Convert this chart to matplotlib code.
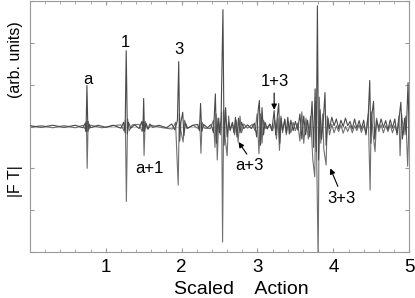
#!/usr/bin/env python3

from matplotlib import pyplot as plt
from matplotlib.ticker import MultipleLocator, NullFormatter

# upper trace: (scaled action, |FT|) vertices
act_up = [0.00, 0.15, 0.30, 0.45, 0.60, 0.70, 0.73, 0.74, 0.752, 0.765, 0.78, 0.80,
          0.90, 1.00, 1.10, 1.20, 1.235, 1.255, 1.27, 1.285, 1.30, 1.33, 1.38, 1.44,
          1.475, 1.49, 1.50, 1.51, 1.53, 1.56, 1.58, 1.62, 1.70, 1.80, 1.87, 1.91,
          1.945, 1.962, 1.975, 1.99, 2.015, 2.03, 2.05, 2.08, 2.15, 2.21, 2.235, 2.25,
          2.265, 2.29, 2.34, 2.39, 2.42, 2.445, 2.46, 2.48, 2.50, 2.52, 2.545, 2.56,
          2.58, 2.60, 2.62, 2.64, 2.67, 2.69, 2.71, 2.73, 2.75, 2.77, 2.79, 2.82,
          2.87, 2.92, 2.96, 2.99, 3.01, 3.025, 3.04, 3.06, 3.08, 3.10, 3.13, 3.16,
          3.19, 3.22, 3.24, 3.265, 3.28, 3.295, 3.31, 3.33, 3.36, 3.38, 3.40, 3.42,
          3.44, 3.47, 3.50, 3.53, 3.56, 3.585, 3.61, 3.635, 3.66, 3.69, 3.72, 3.74,
          3.76, 3.775, 3.79, 3.805, 3.825, 3.845, 3.87, 3.89, 3.905, 3.93, 3.95, 3.98,
          4.01, 4.04, 4.07, 4.10, 4.13, 4.16, 4.19, 4.22, 4.25, 4.28, 4.31, 4.34,
          4.37, 4.40, 4.43, 4.46, 4.48, 4.495, 4.51, 4.53, 4.545, 4.57, 4.60, 4.63,
          4.66, 4.69, 4.72, 4.75, 4.78, 4.81, 4.84, 4.87, 4.89, 4.91, 4.94, 4.96,
          4.985, 5.00]
ft_up = [0.02, -0.02, 0.03, -0.02, 0.03, -0.03, 0.08, -0.12, 0.98, -0.12, 0.06, -0.03,
         0.03, -0.02, 0.03, -0.04, 0.10, -0.15, 1.81, -0.18, 0.10, -0.04, 0.04, -0.05,
         0.12, -0.10, 0.67, -0.12, 0.08, -0.06, 0.06, -0.02, 0.03, -0.03, 0.06, -0.08,
         0.15, 1.55, -0.35, 0.10, 0.34, -0.22, 0.08, -0.04, 0.03, 0.05, -0.10, 0.55,
         -0.12, 0.05, -0.03, 0.05, -0.15, 0.78, -0.40, 0.20, -0.15, 0.15, 2.79, -0.45,
         0.45, -0.25, 0.10, -0.08, 0.10, -0.15, 0.22, -0.25, 0.20, -0.15, 0.10, -0.05,
         0.04, -0.05, 0.08, -0.25, 0.40, 0.62, -0.45, 0.45, -0.20, 0.10, -0.06, 0.06,
         -0.10, 0.38, -0.20, 0.30, 0.55, -0.40, 0.20, -0.10, 0.18, -0.15, 0.22, -0.18,
         0.15, -0.10, 0.12, -0.08, 0.30, -0.30, 0.25, -0.20, 0.15, -0.25, 0.60, -0.50,
         0.90, -0.60, 2.88, -0.80, 0.40, -0.30, 0.20, 0.81, -0.45, 0.20, -0.05, 0.22,
         0.02, 0.18, -0.05, 0.15, 0.00, 0.20, 0.02, 0.12, -0.06, 0.18, -0.04, 0.14,
         -0.06, 0.15, -0.20, 0.25, 1.10, -0.40, 0.30, 0.60, -0.30, 0.15, -0.04, 0.18,
         -0.02, 0.14, -0.08, 0.16, -0.04, 0.18, -0.20, 0.25, 0.58, -0.30, 0.20, -0.20,
         1.05, -0.30]

# lower trace (drawn mirrored below zero)
act_dn = [0.00, 0.15, 0.30, 0.45, 0.60, 0.70, 0.735, 0.745, 0.755, 0.768, 0.78, 0.80,
          0.95, 1.10, 1.20, 1.24, 1.258, 1.272, 1.288, 1.31, 1.35, 1.44, 1.48, 1.495,
          1.505, 1.52, 1.55, 1.60, 1.75, 1.88, 1.92, 1.955, 1.97, 1.99, 2.02, 2.04,
          2.07, 2.15, 2.22, 2.24, 2.255, 2.27, 2.30, 2.38, 2.42, 2.44, 2.455, 2.47,
          2.49, 2.51, 2.528, 2.54, 2.555, 2.575, 2.60, 2.62, 2.64, 2.67, 2.70, 2.72,
          2.745, 2.77, 2.79, 2.82, 2.87, 2.93, 2.97, 2.995, 3.02, 3.04, 3.06, 3.08,
          3.11, 3.17, 3.20, 3.23, 3.25, 3.27, 3.29, 3.31, 3.33, 3.36, 3.38, 3.41,
          3.44, 3.47, 3.50, 3.53, 3.56, 3.585, 3.61, 3.64, 3.67, 3.70, 3.73, 3.755,
          3.77, 3.80, 3.815, 3.835, 3.86, 3.875, 3.905, 3.92, 3.95, 3.98, 4.01, 4.04,
          4.07, 4.10, 4.13, 4.16, 4.19, 4.22, 4.25, 4.28, 4.31, 4.34, 4.37, 4.40,
          4.43, 4.46, 4.485, 4.50, 4.525, 4.55, 4.57, 4.60, 4.63, 4.66, 4.69, 4.72,
          4.75, 4.78, 4.81, 4.84, 4.865, 4.88, 4.90, 4.93, 4.955, 4.98, 5.00]
ft_dn = [-0.02, 0.02, -0.03, 0.02, -0.03, 0.03, -0.08, 0.12, -1.00, 0.12, -0.06, 0.03,
         -0.03, 0.02, 0.04, -0.10, 0.15, -1.79, 0.18, -0.10, 0.04, 0.05, -0.12, 0.10,
         -0.69, 0.12, -0.06, 0.03, -0.03, -0.06, 0.10, -1.40, 0.30, -0.10, -0.37, 0.15,
         -0.05, 0.03, -0.05, 0.10, -0.64, 0.10, -0.04, -0.05, 0.15, -0.50, 0.30, -0.80,
         0.20, -0.20, 0.35, -2.76, 0.40, -0.30, -0.70, 0.25, -0.10, 0.08, -0.20, 0.15,
         -0.37, 0.25, -0.15, 0.06, -0.04, 0.05, -0.10, 0.30, -0.65, 0.30, -0.40, 0.15,
         -0.05, 0.05, -0.10, 0.15, -0.30, 0.20, -0.57, 0.25, -0.15, 0.15, -0.20, 0.12,
         -0.15, 0.10, -0.10, 0.08, -0.35, 0.35, -0.40, 0.20, -0.30, 0.25, -0.80, -1.20,
         0.60, -3.20, 0.70, -0.40, 0.30, -0.55, -0.92, 0.25, -0.20, 0.05, -0.15, 0.02,
         -0.12, 0.04, -0.16, 0.00, -0.12, 0.03, -0.15, 0.02, -0.10, 0.04, -0.14, 0.02,
         -0.15, 0.30, -1.52, 0.35, -0.20, -0.60, 0.20, -0.12, 0.04, -0.15, 0.02, -0.12,
         0.04, -0.15, 0.02, -0.15, 0.25, -0.70, 0.30, -0.20, 0.25, -0.95, 0.20]


def main():
    plt.rcParams['font.family'] = ['Liberation Sans', 'DejaVu Sans']

    fig = plt.figure(figsize=(4.15, 2.98), dpi=100)
    ax = fig.add_axes([0.072, 0.154, 0.914, 0.843])

    ax.axhline(0, color='#c8c8c8', lw=0.8, zorder=1)
    ax.plot(act_dn, ft_dn, color='#707070', lw=0.8, zorder=2)
    ax.plot(act_up, ft_up, color='#4a4a4a', lw=0.8, zorder=3)

    ax.set_xlim(0, 5)
    ax.set_ylim(-3, 3)

    # ticks on all sides, pointing in
    ax.xaxis.set_minor_locator(MultipleLocator(0.2))
    ax.yaxis.set_major_locator(MultipleLocator(1))
    ax.yaxis.set_major_formatter(NullFormatter())
    ax.set_xticks([1, 2, 3, 4, 5])
    ax.tick_params(which='both', direction='in', top=True, right=True,
                   color='#999999', labelsize=13.5, pad=5)
    ax.tick_params(which='major', length=3)
    ax.tick_params(which='minor', length=2)
    for sp in ax.spines.values():
        sp.set_color('#999999')

    # axis titles placed by hand, like the original
    fig.text(241.5 / 415, 1 - 290 / 298, "Scaled    Action", fontsize=14,
             ha='center', va='center')
    fig.text(15.5 / 415, 1 - 59.5 / 298, "(arb. units)", fontsize=11.5,
             rotation=90, ha='center', va='center')
    fig.text(15.5 / 415, 1 - 181.5 / 298, "|F T|", fontsize=11.5,
             rotation=90, ha='center', va='center')

    # peak labels
    lbl = dict(fontsize=12, ha='center', va='center')
    ax.text(0.76, 1.12, "a", **lbl)
    ax.text(1.26, 2.0, "1", **lbl)
    ax.text(1.97, 1.83, "3", **lbl)
    ax.text(1.58, -1.0, "a+1", **lbl)

    arrow = dict(arrowstyle='-|>', color='black', lw=0.8, mutation_scale=8,
                 shrinkA=0, shrinkB=0)
    ax.text(3.23, 1.07, "1+3", **lbl)
    ax.annotate("", xy=(3.22, 0.40), xytext=(3.22, 0.80), arrowprops=arrow)
    ax.text(2.89, -0.94, "a+3", **lbl)
    ax.annotate("", xy=(2.75, -0.37), xytext=(2.86, -0.66), arrowprops=arrow)
    ax.text(4.11, -1.71, "3+3", **lbl)
    ax.annotate("", xy=(3.96, -1.0), xytext=(4.06, -1.43), arrowprops=arrow)

    fig.savefig('out.png', dpi=100)


if __name__ == "__main__":
    main()
